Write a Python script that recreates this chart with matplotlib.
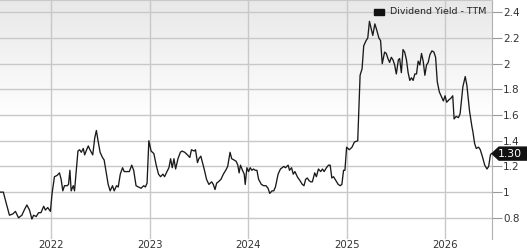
import numpy as np
import matplotlib
matplotlib.use("Agg")
import matplotlib.pyplot as plt
from matplotlib.patches import Polygon

# ---- data (decimal years, dividend yield %) ----
dates = [
    2021.478, 2021.512, 2021.539, 2021.574, 2021.608, 2021.635, 2021.666, 2021.700,
    2021.724, 2021.751, 2021.778, 2021.802, 2021.819, 2021.846, 2021.870, 2021.894,
    2021.922, 2021.939, 2021.963, 2021.990, 2022.007, 2022.031, 2022.058, 2022.082,
    2022.099, 2022.116, 2022.133, 2022.160, 2022.174, 2022.188, 2022.201, 2022.222,
    2022.235, 2022.270, 2022.287, 2022.304, 2022.324, 2022.338, 2022.358, 2022.375,
    2022.392, 2022.420, 2022.440, 2022.457, 2022.474, 2022.495, 2022.519, 2022.536,
    2022.553, 2022.577, 2022.597, 2022.621, 2022.638, 2022.662, 2022.679, 2022.700,
    2022.723, 2022.740, 2022.768, 2022.792, 2022.816, 2022.836, 2022.860, 2022.884,
    2022.911, 2022.938, 2022.955, 2022.972, 2022.990, 2023.013, 2023.041, 2023.065,
    2023.088, 2023.109, 2023.133, 2023.150, 2023.174, 2023.194, 2023.211, 2023.228,
    2023.245, 2023.262, 2023.286, 2023.310, 2023.327, 2023.355, 2023.382, 2023.406,
    2023.423, 2023.450, 2023.464, 2023.484, 2023.498, 2023.518, 2023.535, 2023.552,
    2023.576, 2023.600, 2023.628, 2023.645, 2023.662, 2023.679, 2023.696, 2023.723,
    2023.747, 2023.771, 2023.791, 2023.815, 2023.832, 2023.856, 2023.877, 2023.894,
    2023.907, 2023.921, 2023.941, 2023.959, 2023.969, 2023.986, 2024.003, 2024.020,
    2024.037, 2024.054, 2024.071, 2024.088, 2024.105, 2024.133, 2024.156, 2024.180,
    2024.201, 2024.218, 2024.242, 2024.259, 2024.276, 2024.303, 2024.327, 2024.344,
    2024.361, 2024.378, 2024.405, 2024.419, 2024.440, 2024.457, 2024.474, 2024.498,
    2024.525, 2024.549, 2024.566, 2024.583, 2024.600, 2024.617, 2024.634, 2024.651,
    2024.675, 2024.692, 2024.713, 2024.736, 2024.754, 2024.771, 2024.794, 2024.815,
    2024.832, 2024.849, 2024.866, 2024.890, 2024.914, 2024.934, 2024.951, 2024.968,
    2024.982, 2024.999, 2025.026, 2025.054, 2025.078, 2025.112, 2025.136, 2025.156,
    2025.173, 2025.197, 2025.214, 2025.231, 2025.252, 2025.265, 2025.286, 2025.306,
    2025.327, 2025.344, 2025.361, 2025.385, 2025.402, 2025.419, 2025.436, 2025.453,
    2025.470, 2025.487, 2025.504, 2025.525, 2025.538, 2025.555, 2025.572, 2025.589,
    2025.607, 2025.624, 2025.641, 2025.658, 2025.675, 2025.692, 2025.709, 2025.726,
    2025.743, 2025.760, 2025.777, 2025.794, 2025.811, 2025.828, 2025.845, 2025.866,
    2025.886, 2025.903, 2025.920, 2025.941, 2025.965, 2025.982, 2025.999, 2026.016,
    2026.040, 2026.057, 2026.077, 2026.091, 2026.112, 2026.135, 2026.152, 2026.180,
    2026.204, 2026.221, 2026.248, 2026.272, 2026.282, 2026.299, 2026.316, 2026.340,
    2026.357, 2026.381, 2026.402, 2026.425, 2026.442, 2026.460, 2026.470,
]
yield_ttm = [
    1.00, 1.00, 0.92, 0.82, 0.83, 0.85, 0.80, 0.82,
    0.86, 0.90, 0.86, 0.79, 0.82, 0.81, 0.84, 0.84,
    0.89, 0.86, 0.88, 0.85, 0.99, 1.12, 1.13, 1.15,
    1.10, 1.01, 1.05, 1.05, 1.06, 1.17, 1.01, 1.05,
    1.01, 1.32, 1.33, 1.31, 1.34, 1.29, 1.33, 1.36,
    1.33, 1.29, 1.42, 1.48, 1.40, 1.31, 1.27, 1.25,
    1.17, 1.06, 1.01, 1.05, 1.01, 1.05, 1.04, 1.14,
    1.19, 1.16, 1.16, 1.16, 1.21, 1.17, 1.05, 1.04,
    1.03, 1.05, 1.04, 1.07, 1.40, 1.32, 1.30, 1.21,
    1.14, 1.12, 1.14, 1.12, 1.16, 1.19, 1.26, 1.19,
    1.26, 1.18, 1.26, 1.31, 1.32, 1.31, 1.29, 1.27,
    1.33, 1.32, 1.33, 1.23, 1.26, 1.28, 1.23, 1.18,
    1.10, 1.06, 1.08, 1.06, 1.02, 1.07, 1.08, 1.10,
    1.14, 1.17, 1.20, 1.31, 1.26, 1.25, 1.24, 1.21,
    1.15, 1.21, 1.17, 1.14, 1.06, 1.19, 1.16, 1.19,
    1.17, 1.18, 1.17, 1.17, 1.10, 1.06, 1.05, 1.05,
    1.03, 0.99, 1.01, 1.01, 1.04, 1.14, 1.18, 1.19,
    1.20, 1.19, 1.21, 1.17, 1.19, 1.14, 1.16, 1.12,
    1.09, 1.06, 1.05, 1.10, 1.11, 1.09, 1.08, 1.08,
    1.15, 1.12, 1.18, 1.16, 1.18, 1.16, 1.19, 1.21,
    1.21, 1.11, 1.12, 1.09, 1.06, 1.05, 1.06, 1.17,
    1.17, 1.35, 1.33, 1.35, 1.39, 1.40, 1.91, 1.96,
    2.14, 2.18, 2.20, 2.33, 2.26, 2.22, 2.31, 2.26,
    2.20, 2.18, 2.00, 2.09, 2.08, 2.04, 2.01, 2.05,
    2.03, 1.99, 1.92, 2.03, 2.04, 1.93, 2.11, 2.09,
    2.03, 1.93, 1.87, 1.89, 1.87, 1.92, 1.92, 2.02,
    1.99, 2.08, 2.02, 1.91, 1.99, 2.01, 2.07, 2.10,
    2.09, 2.05, 1.86, 1.78, 1.74, 1.71, 1.75, 1.70,
    1.72, 1.73, 1.75, 1.57, 1.59, 1.58, 1.61, 1.82,
    1.90, 1.83, 1.63, 1.51, 1.47, 1.38, 1.34, 1.35,
    1.33, 1.27, 1.21, 1.18, 1.20, 1.29, 1.30,
]
year_ticks = [2022, 2023, 2024, 2025, 2026]
year_labels = ["2022", "2023", "2024", "2025", "2026"]
y_ticks = [0.8, 1.0, 1.2, 1.4, 1.6, 1.8, 2.0, 2.2, 2.4]
y_labels = ["0.8", "1", "1.2", "1.4", "1.6", "1.8", "2", "2.2", "2.4"]
series_name = "Dividend Yield - TTM"

# ---- figure ----
W, H = 527, 250
fig = plt.figure(figsize=(W / 100, H / 100), dpi=100)
ax = fig.add_axes([0, 11 / H, 492 / W, 239 / H])

xmin, xmax = 2021.478, 2026.476
ymin, ymax = 0.635, 2.496
ax.set_xlim(xmin, xmax)
ax.set_ylim(ymin, ymax)

# gradient background
t = np.linspace(0, 1, 256)  # 0 = top
shade = np.clip(0.91 + (1.0 - 0.91) * (t / 0.5), 0, 1.0)
img = np.dstack([shade, shade, shade]).reshape(256, 1, 3)
ax.imshow(img, extent=[xmin, xmax, ymin, ymax], aspect="auto", zorder=0,
          interpolation="bilinear", origin="upper")

# grid
for yt in y_ticks:
    ax.axhline(yt, color="#c8c8c8", lw=1.0, zorder=1)
for xt in year_ticks:
    ax.axvline(xt, color="#c8c8c8", lw=1.0, zorder=1)

ax.plot(dates, yield_ttm, color="#1a1a1a", lw=0.95, zorder=3,
        solid_joinstyle="round")

# axes styling
for s in ["left", "bottom"]:
    ax.spines[s].set_visible(False)
ax.spines["top"].set_color("#c8c8c8")
ax.spines["right"].set_color("#b0b0b0")
ax.yaxis.tick_right()
ax.set_yticks(y_ticks)
ax.set_yticklabels(y_labels)
ax.set_xticks(year_ticks)
ax.set_xticklabels(year_labels)
ax.tick_params(axis="y", direction="out", length=7, width=0.8, color="#999999",
               labelsize=7.5, labelcolor="#333333", pad=1)
ax.tick_params(axis="x", length=0, labelsize=7.3, labelcolor="#333333", pad=0.5)

# legend (manual)
fig.patches.append(plt.Rectangle((374 / W, 1 - 15 / H), 10 / W, 6 / H,
                                 transform=fig.transFigure, color="#111111"))
fig.text(390 / W, 1 - 12 / H, series_name, fontsize=6.8, color="#222222",
         va="center", ha="left")

# last-value tag
last = yield_ttm[-1]
ypix = ax.transData.transform((xmax, last))[1]
yc = ypix / H
hh = 6.5 / H
x0 = 492 / W
poly = Polygon([[x0, yc], [x0 + 7 / W, yc + hh], [1.0, yc + hh],
                [1.0, yc - hh], [x0 + 7 / W, yc - hh]],
               closed=True, transform=fig.transFigure, color="#111111",
               clip_on=False)
fig.patches.append(poly)
fig.text(510 / W, yc, f"{last:.2f}", fontsize=7.8, color="white",
         va="center", ha="center")

fig.savefig("out.png", dpi=100)
